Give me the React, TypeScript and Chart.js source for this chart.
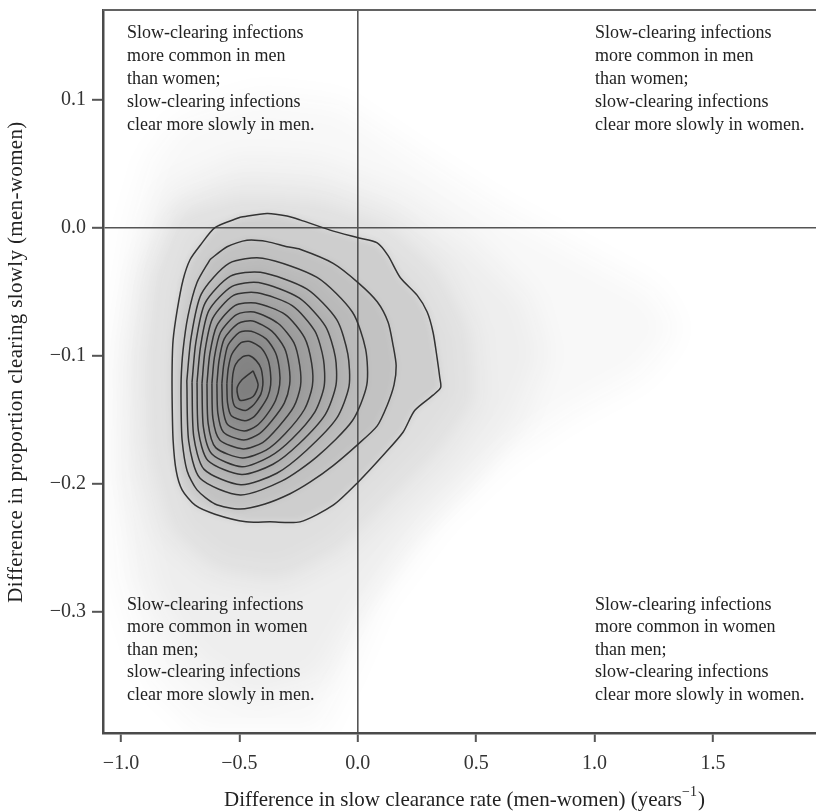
import React, { useEffect, useRef } from 'react';
import { Chart, registerables } from 'chart.js';

Chart.register(...registerables);

// ---- axes ----
const xMin = -1.076;
const xMax = 1.935;
const yMin = -0.395;
const yMax = 0.17;
const xTicks = [-1.0, -0.5, 0.0, 0.5, 1.0, 1.5];
const xTickLabels = ['−1.0', '−0.5', '0.0', '0.5', '1.0', '1.5'];
const yTicks = [0.1, 0.0, -0.1, -0.2, -0.3];
const yTickLabels = ['0.1', '0.0', '−0.1', '−0.2', '−0.3'];

const xTitleMain = 'Difference in slow clearance rate (men-women) (years';
const xTitleSup = '−1';
const xTitleEnd = ')';
const yTitle = 'Difference in proportion clearing slowly (men-women)';

// ---- quadrant notes ----
const noteTopLeft = ['Slow-clearing infections', 'more common in men', 'than women;', 'slow-clearing infections', 'clear more slowly in men.'];
const noteTopRight = ['Slow-clearing infections', 'more common in men', 'than women;', 'slow-clearing infections', 'clear more slowly in women.'];
const noteBottomLeft = ['Slow-clearing infections', 'more common in women', 'than men;', 'slow-clearing infections', 'clear more slowly in men.'];
const noteBottomRight = ['Slow-clearing infections', 'more common in women', 'than men;', 'slow-clearing infections', 'clear more slowly in women.'];

// ---- point-cloud density envelopes (faint scatter around the contours) ----
const cloudOuter: number[][] = [
  [-0.750, 0.084], [-0.412, 0.103], [-0.075, 0.096], [0.262, 0.055], [0.600, 0.015], [0.950, -0.020],
  [1.250, -0.050], [1.350, -0.080], [1.200, -0.115], [0.900, -0.145], [0.620, -0.180], [0.347, -0.229],
  [0.094, -0.291], [-0.054, -0.354], [-0.159, -0.393], [-0.666, -0.393], [-0.877, -0.354], [-1.012, -0.276],
  [-1.054, -0.182], [-1.037, -0.088], [-0.961, -0.002], [-0.877, 0.053],
];
const cloudMiddle: number[][] = [
  [-0.792, 0.029], [-0.497, 0.053], [-0.159, 0.049], [0.179, 0.025], [0.474, -0.010], [0.720, -0.055],
  [0.790, -0.100], [0.680, -0.150], [0.474, -0.198], [0.221, -0.244], [0.010, -0.299], [-0.159, -0.354],
  [-0.455, -0.369], [-0.708, -0.338], [-0.877, -0.283], [-0.982, -0.198], [-0.995, -0.112], [-0.940, -0.033],
];
const cloudInner: number[][] = [
  [-0.771, 0.010], [-0.497, 0.025], [-0.159, 0.021], [0.136, 0.002], [0.347, -0.033], [0.474, -0.080],
  [0.495, -0.135], [0.347, -0.174], [0.136, -0.213], [-0.075, -0.252], [-0.328, -0.276], [-0.602, -0.268],
  [-0.792, -0.237], [-0.885, -0.174], [-0.898, -0.104], [-0.868, -0.041],
];

// ---- density contours, outermost first ----
const contour1: number[][] = [
  [-0.497, 0.008], [-0.383, 0.011], [-0.299, 0.009], [-0.244, 0.006], [-0.117, -0.002], [0.001, -0.008],
  [0.082, -0.012], [0.128, -0.022], [0.179, -0.039], [0.251, -0.053], [0.293, -0.066], [0.318, -0.082],
  [0.335, -0.102], [0.346, -0.117], [0.350, -0.125], [0.318, -0.131], [0.240, -0.143], [0.191, -0.160],
  [0.107, -0.178], [0.001, -0.199], [-0.104, -0.217], [-0.244, -0.230], [-0.371, -0.230], [-0.472, -0.230],
  [-0.603, -0.224], [-0.687, -0.217], [-0.742, -0.205], [-0.767, -0.190], [-0.780, -0.166], [-0.784, -0.135],
  [-0.784, -0.108], [-0.780, -0.088], [-0.763, -0.065], [-0.738, -0.041], [-0.708, -0.025], [-0.666, -0.014],
  [-0.603, 0.000],
];
const contour2: number[][] = [
  [-0.624, -0.025], [-0.552, -0.015], [-0.468, -0.010], [-0.383, -0.011], [-0.299, -0.015], [-0.244, -0.017],
  [-0.104, -0.028], [0.001, -0.043], [0.082, -0.058], [0.128, -0.074], [0.149, -0.092], [0.162, -0.108],
  [0.153, -0.123], [0.124, -0.139], [0.082, -0.155], [-0.003, -0.170], [-0.104, -0.186], [-0.202, -0.199],
  [-0.286, -0.208], [-0.392, -0.216], [-0.497, -0.220], [-0.603, -0.216], [-0.679, -0.205], [-0.721, -0.190],
  [-0.742, -0.166], [-0.746, -0.143], [-0.746, -0.119], [-0.738, -0.096], [-0.717, -0.069], [-0.679, -0.043],
];
const contour3: number[][] = [
  [-0.722, -0.120], [-0.714, -0.167], [-0.666, -0.196], [-0.496, -0.209], [-0.320, -0.198], [-0.172, -0.179],
  [-0.023, -0.151], [0.038, -0.123], [0.033, -0.095], [-0.023, -0.066], [-0.172, -0.039], [-0.402, -0.024],
  [-0.544, -0.028], [-0.661, -0.052], [-0.704, -0.086],
];
const contour4: number[][] = [
  [-0.700, -0.121], [-0.693, -0.163], [-0.649, -0.189], [-0.494, -0.201], [-0.342, -0.192], [-0.216, -0.174],
  [-0.089, -0.149], [-0.037, -0.124], [-0.042, -0.099], [-0.089, -0.072], [-0.216, -0.048], [-0.411, -0.035],
  [-0.538, -0.038], [-0.645, -0.059], [-0.684, -0.090],
];
const contour5: number[][] = [
  [-0.679, -0.121], [-0.673, -0.159], [-0.633, -0.182], [-0.491, -0.193], [-0.358, -0.185], [-0.248, -0.169],
  [-0.137, -0.146], [-0.092, -0.123], [-0.095, -0.101], [-0.137, -0.077], [-0.248, -0.055], [-0.419, -0.043],
  [-0.531, -0.046], [-0.629, -0.065], [-0.664, -0.093],
];
const contour6: number[][] = [
  [-0.658, -0.122], [-0.652, -0.156], [-0.616, -0.177], [-0.489, -0.187], [-0.372, -0.179], [-0.277, -0.165],
  [-0.181, -0.144], [-0.142, -0.124], [-0.145, -0.103], [-0.181, -0.081], [-0.277, -0.061], [-0.425, -0.051],
  [-0.525, -0.053], [-0.613, -0.071], [-0.645, -0.096],
];
const contour7: number[][] = [
  [-0.637, -0.122], [-0.632, -0.153], [-0.600, -0.172], [-0.487, -0.180], [-0.387, -0.174], [-0.306, -0.161],
  [-0.225, -0.142], [-0.192, -0.124], [-0.195, -0.106], [-0.225, -0.086], [-0.306, -0.068], [-0.432, -0.059],
  [-0.519, -0.061], [-0.596, -0.077], [-0.625, -0.099],
];
const contour8: number[][] = [
  [-0.616, -0.122], [-0.612, -0.149], [-0.583, -0.166], [-0.484, -0.173], [-0.402, -0.168], [-0.336, -0.156],
  [-0.270, -0.140], [-0.242, -0.124], [-0.245, -0.108], [-0.270, -0.090], [-0.336, -0.075], [-0.438, -0.066],
  [-0.512, -0.068], [-0.580, -0.082], [-0.606, -0.102],
];
const contour9: number[][] = [
  [-0.595, -0.122], [-0.591, -0.145], [-0.567, -0.160], [-0.482, -0.166], [-0.415, -0.161], [-0.363, -0.151],
  [-0.310, -0.137], [-0.288, -0.123], [-0.290, -0.109], [-0.310, -0.094], [-0.363, -0.081], [-0.444, -0.073],
  [-0.506, -0.075], [-0.564, -0.087], [-0.586, -0.104],
];
const contour10: number[][] = [
  [-0.574, -0.122], [-0.570, -0.141], [-0.550, -0.154], [-0.480, -0.159], [-0.428, -0.155], [-0.387, -0.147],
  [-0.347, -0.135], [-0.330, -0.123], [-0.331, -0.111], [-0.347, -0.098], [-0.387, -0.087], [-0.450, -0.081],
  [-0.500, -0.082], [-0.548, -0.092], [-0.566, -0.107],
];
const contour11: number[][] = [
  [-0.553, -0.122], [-0.550, -0.137], [-0.534, -0.147], [-0.477, -0.151], [-0.439, -0.148], [-0.409, -0.141],
  [-0.380, -0.132], [-0.368, -0.123], [-0.369, -0.113], [-0.380, -0.103], [-0.409, -0.094], [-0.455, -0.089],
  [-0.493, -0.090], [-0.532, -0.099], [-0.547, -0.110],
];
const contour12: number[][] = [
  [-0.531, -0.122], [-0.530, -0.133], [-0.518, -0.140], [-0.475, -0.143], [-0.448, -0.140], [-0.429, -0.136],
  [-0.409, -0.130], [-0.401, -0.123], [-0.402, -0.117], [-0.409, -0.110], [-0.429, -0.104], [-0.459, -0.100],
  [-0.487, -0.101], [-0.516, -0.107], [-0.527, -0.114],
];
const contour13: number[][] = [
  [-0.442, -0.112], [-0.421, -0.123], [-0.442, -0.132], [-0.497, -0.135], [-0.510, -0.126], [-0.489, -0.119],
];

const contours = [contour1, contour2, contour3, contour4, contour5, contour6, contour7, contour8, contour9, contour10, contour11, contour12, contour13];
const cloudLayers = [cloudOuter, cloudMiddle, cloudInner];
const cloudShade = [0.03, 0.045, 0.07];
const contourShade = [0.085, 0.065, 0.05, 0.05, 0.05, 0.05, 0.05, 0.05, 0.05, 0.05, 0.05, 0.05, 0.04];

const FONT = '"Liberation Serif", "Times New Roman", serif';

function tracePoly(chart: any, poly: number[][]) {
  const { ctx, scales } = chart;
  ctx.beginPath();
  poly.forEach(([x, y], i) => {
    const px = scales.x.getPixelForValue(x);
    const py = scales.y.getPixelForValue(y);
    if (i === 0) ctx.moveTo(px, py);
    else ctx.lineTo(px, py);
  });
  ctx.closePath();
}

const cloudPlugin = {
  id: 'cloudPlugin',
  beforeDraw(chart: any) {
    const { ctx, chartArea } = chart;
    ctx.save();
    ctx.beginPath();
    ctx.rect(chartArea.left, chartArea.top, chartArea.right - chartArea.left, chartArea.bottom - chartArea.top);
    ctx.clip();
    cloudLayers.forEach((poly, i) => {
      ctx.filter = 'blur(14px)';
      ctx.fillStyle = `rgba(30,30,30,${cloudShade[i]})`;
      tracePoly(chart, poly);
      ctx.fill();
    });
    contours.forEach((poly, i) => {
      ctx.filter = 'blur(3px)';
      ctx.fillStyle = `rgba(30,30,30,${contourShade[i]})`;
      tracePoly(chart, poly);
      ctx.fill();
    });
    ctx.restore();
  },
  afterDraw(chart: any) {
    const { ctx, chartArea } = chart;
    ctx.save();
    // top frame line
    ctx.strokeStyle = '#626262';
    ctx.lineWidth = 2;
    ctx.beginPath();
    ctx.moveTo(chartArea.left, chartArea.top);
    ctx.lineTo(chartArea.right, chartArea.top);
    ctx.stroke();

    // quadrant notes
    ctx.fillStyle = '#222';
    ctx.font = `18px ${FONT}`;
    ctx.textBaseline = 'middle';
    ctx.textAlign = 'left';
    const leftX = chartArea.left + 24;
    const rightX = chartArea.left + 492;
    const topY = chartArea.top + 23.5;
    const botY = chartArea.bottom - 128;
    noteTopLeft.forEach((t, i) => ctx.fillText(t, leftX, topY + i * 22.9));
    noteTopRight.forEach((t, i) => ctx.fillText(t, rightX, topY + i * 22.9));
    noteBottomLeft.forEach((t, i) => ctx.fillText(t, leftX, botY + i * 22.5));
    noteBottomRight.forEach((t, i) => ctx.fillText(t, rightX, botY + i * 22.5));

    // x axis title with superscript
    ctx.font = `21px ${FONT}`;
    const wMain = ctx.measureText(xTitleMain).width;
    const wEnd = ctx.measureText(xTitleEnd).width;
    ctx.font = `14px ${FONT}`;
    const wSup = ctx.measureText(xTitleSup).width;
    const total = wMain + wSup + 1 + wEnd;
    const cx = (chartArea.left + chartArea.right) / 2 + 5;
    let x0 = cx - total / 2;
    const ty = 800;
    ctx.font = `21px ${FONT}`;
    ctx.fillText(xTitleMain, x0, ty);
    x0 += wMain;
    ctx.font = `14px ${FONT}`;
    ctx.fillText(xTitleSup, x0, ty - 8);
    x0 += wSup + 1;
    ctx.font = `21px ${FONT}`;
    ctx.fillText(xTitleEnd, x0, ty);

    // y axis title
    ctx.translate(16, 362);
    ctx.rotate(-Math.PI / 2);
    ctx.textAlign = 'center';
    (ctx as any).letterSpacing = '0.35px';
    ctx.fillText(yTitle, 0, 0);
    ctx.restore();
  },
};

export default function App() {
  const ref = useRef<HTMLCanvasElement>(null);
  useEffect(() => {
    if (!ref.current) return;
    const chart = new Chart(ref.current, {
      type: 'scatter',
      data: {
        datasets: contours.map((c) => ({
          data: [...c, c[0]].map(([x, y]) => ({ x, y })),
          showLine: true,
          borderColor: '#333',
          borderWidth: 1.5,
          pointRadius: 0,
          tension: 0.25,
          fill: false,
        })),
      },
      options: {
        responsive: false,
        animation: false,
        layout: { padding: { top: 10, right: 0, left: 0, bottom: 0 } },
        plugins: { legend: { display: false }, tooltip: { enabled: false } },
        scales: {
          x: {
            type: 'linear',
            min: xMin,
            max: xMax,
            afterBuildTicks: (s: any) => { s.ticks = xTicks.map((v) => ({ value: v })); },
            afterFit: (s: any) => { s.height = 79; s.paddingLeft = 0; s.paddingRight = 0; },
            ticks: {
              callback: (v: any) => xTickLabels[xTicks.indexOf(Number(v))] ?? '',
              font: { family: FONT, size: 20 },
              color: '#333',
              padding: 10,
              maxRotation: 0,
              autoSkip: false,
            },
            grid: {
              color: (c: any) => (c.tick && c.tick.value === 0 ? '#555' : 'rgba(0,0,0,0)'),
              lineWidth: 1.6,
              drawTicks: true,
              tickLength: 9,
              tickColor: '#555',
              tickWidth: 2,
            },
            border: { display: true, color: '#4a4a4a', width: 2.5 },
          },
          y: {
            type: 'linear',
            min: yMin,
            max: yMax,
            afterBuildTicks: (s: any) => { s.ticks = yTicks.map((v) => ({ value: v })); },
            afterFit: (s: any) => { s.width = 103; s.paddingTop = 0; s.paddingBottom = 0; },
            ticks: {
              callback: (v: any) => yTickLabels[yTicks.indexOf(Number(v))] ?? '',
              font: { family: FONT, size: 20 },
              color: '#333',
              padding: 6,
              autoSkip: false,
            },
            grid: {
              color: (c: any) => (c.tick && c.tick.value === 0 ? '#555' : 'rgba(0,0,0,0)'),
              lineWidth: 1.6,
              drawTicks: true,
              tickLength: 11,
              tickColor: '#555',
              tickWidth: 2,
            },
            border: { display: true, color: '#4a4a4a', width: 2.5 },
          },
        },
      } as any,
      plugins: [cloudPlugin],
    });
    return () => chart.destroy();
  }, []);
  return (
    <div style={{ position: 'absolute', left: 0, top: 0, width: 816, height: 812, background: '#fff' }}>
      <canvas ref={ref} width={816} height={812} style={{ display: 'block' }} />
    </div>
  );
}
